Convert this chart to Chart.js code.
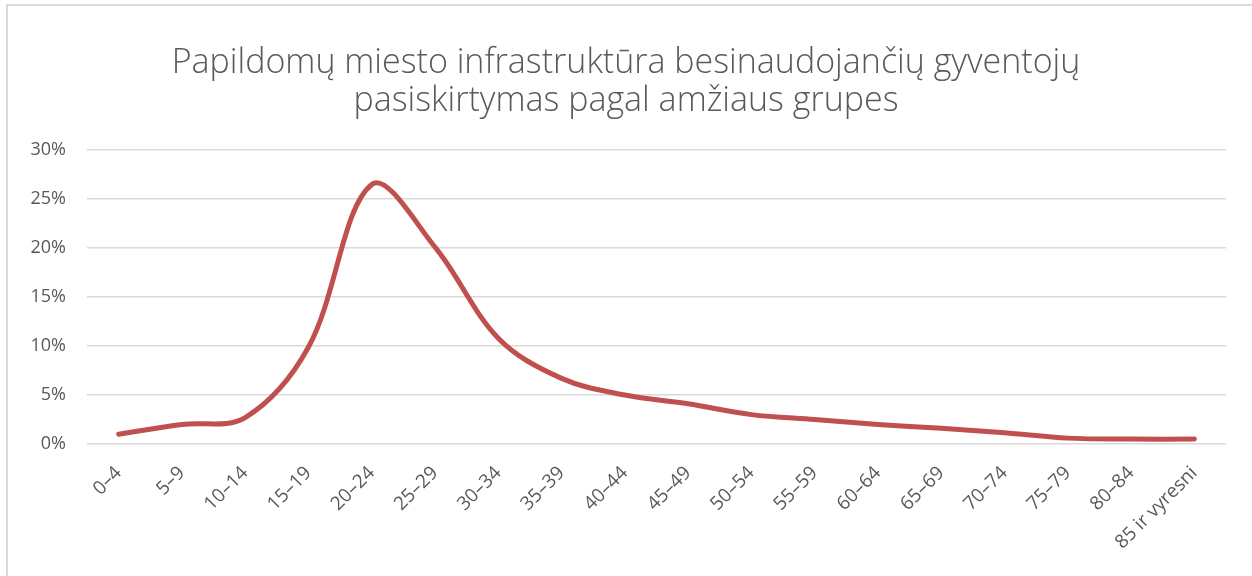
<!DOCTYPE html>
<html>
<head>
<meta charset="utf-8">
<script src="https://cdn.jsdelivr.net/npm/chart.js@4"></script>
<style>
  html, body { margin: 0; padding: 0; background: #fff; }
  #frame { position: absolute; left: 6px; top: 4px; width: 1300px; height: 640px;
           border-left: 2px solid #d9d9d9; border-top: 2px solid #d9d9d9; }
  #wrap { position: absolute; left: 0; top: 0; width: 1252px; height: 576px; }
</style>
</head>
<body>
<div id="frame"></div>
<div id="wrap"><canvas id="ageChart" width="1252" height="576"></canvas></div>
<script>
// Age groups and share of residents (fraction)
let ageGroups = ['0–4', '5–9', '10–14', '15–19', '20–24', '25–29', '30–34', '35–39', '40–44',
                 '45–49', '50–54', '55–59', '60–64', '65–69', '70–74', '75–79', '80–84', '85 ir vyresni']
let shareValues = [0.010, 0.020, 0.027, 0.099, 0.265, 0.201, 0.108, 0.067, 0.050,
                   0.041, 0.030, 0.025, 0.020, 0.016, 0.0115, 0.006, 0.005, 0.005]
let yTicks = [0, 0.05, 0.10, 0.15, 0.20, 0.25, 0.30]

let textColor = '#595959';
let fontName = '"Open Sans", Lato, sans-serif';

var ctx = document.getElementById('ageChart').getContext('2d');
var chartAges = new Chart(ctx, {
    type: 'line',
    data: {
        labels: ageGroups,
        datasets: [{
            label: '',
            data: shareValues,
            borderColor: '#C0504D',
            backgroundColor: '#C0504D',
            borderWidth: 5,
            borderCapStyle: 'round',
            pointRadius: 0,
            tension: 0.35,
            fill: false
        }]
    },
    options: {
        responsive: false,
        animation: false,
        layout: { padding: { left: 26, right: 26, top: 0, bottom: 0 } },
        plugins: {
            legend: { display: false },
            tooltip: { enabled: false },
            title: {
                display: true,
                text: ['Papildomų miesto infrastruktūra besinaudojančių gyventojų',
                       'pasiskirtymas pagal amžiaus grupes'],
                color: textColor,
                font: { family: fontName, size: 34, weight: '300', lineHeight: 1.12 },
                padding: { top: 44, bottom: 30 }
            }
        },
        scales: {
            x: {
                offset: true,
                grid: { display: false },
                border: { display: false },
                ticks: {
                    color: textColor,
                    font: { family: fontName, size: 19 },
                    maxRotation: 45,
                    minRotation: 45,
                    autoSkip: false,
                    padding: 10
                },
                afterFit: function(scale) { scale.height = 132; }
            },
            y: {
                min: 0,
                max: 0.3,
                afterBuildTicks: function(scale) {
                    scale.ticks = yTicks.map(function(v) { return { value: v }; });
                },
                grid: { color: '#d9d9d9', lineWidth: 1.5, drawTicks: false },
                border: { display: false },
                ticks: {
                    color: textColor,
                    font: { family: fontName, size: 18 },
                    padding: 21,
                    callback: function(v) { return Math.round(v * 100) + '%'; }
                },
                afterFit: function(scale) { scale.width = 61; }
            }
        }
    }
});
</script>
</body>
</html>
